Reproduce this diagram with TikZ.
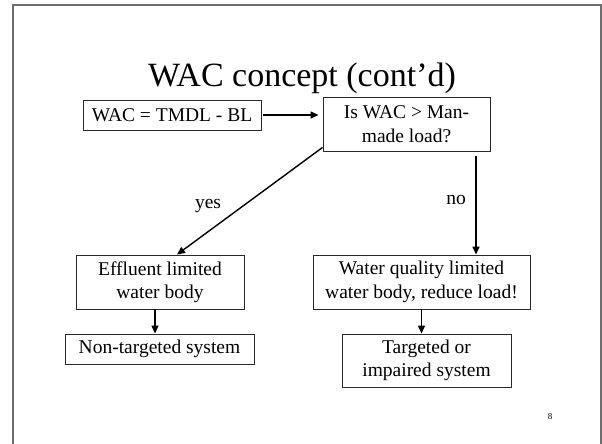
\documentclass[tikz,border=0pt]{standalone}
\usepackage{fontspec}
\setmainfont{Liberation Serif}
\usetikzlibrary{arrows.meta}
\definecolor{framegray}{RGB}{110,110,110}
\definecolor{boxline}{RGB}{40,40,40}

\begin{document}
\begin{tikzpicture}[x=1pt, y=-1pt,
    box/.style={rectangle, draw=boxline, line width=0.9pt, align=center, inner sep=0pt,
        font=\fontsize{19.5}{23.5}\selectfont},
    arrow/.style={-{Triangle[length=8pt, width=7pt]}, line width=1.4pt, black},
    lbl/.style={font=\fontsize{19.5}{23.5}\selectfont}
]
    \useasboundingbox (0,0) rectangle (602,444);

    % Slide frame
    \draw[framegray, line width=1.5pt] (13,444) -- (13,5) -- (601,5) -- (601,444);

    % Title
    \node[font=\fontsize{34}{38}\selectfont] (title) at (302,78) {WAC concept (cont'd)};

    % Top row
    \node[box, minimum width=178pt, minimum height=30pt] (wac) at (172,115) {WAC = TMDL - BL};
    \node[box, minimum width=167pt, minimum height=54pt] (test) at (406.5,124) {Is WAC > Man-\\made load?};

    % Middle row
    \node[box, minimum width=168pt, minimum height=54pt] (effluent) at (160,282) {Effluent limited\\water body};
    \node[box, minimum width=217pt, minimum height=54pt] (quality) at (421.5,282) {Water quality limited\\water body, reduce load!};

    % Bottom row
    \node[box, minimum width=189pt, minimum height=30pt] (nontarget) at (159.5,349) {Non-targeted system};
    \node[box, minimum width=169pt, minimum height=53pt] (target) at (426.5,360.5) {Targeted or\\impaired system};

    % Arrows
    \draw[arrow, shorten <=2pt, shorten >=4pt] (wac.east) -- (wac.east -| test.west);
    \draw[arrow] ([yshift=4pt]test.south west) -- ([xshift=17pt]effluent.north);
    \draw[arrow, shorten <=5pt] ([xshift=69.5pt]test.south) -- ([xshift=69.5pt]test.south |- quality.north);
    \draw[arrow] ([xshift=-5pt]effluent.south) -- ([xshift=-5pt]effluent.south |- nontarget.north);
    \draw[arrow] (quality.south) -- (quality.south |- target.north);

    % Labels
    \node[lbl] (yes) at (208,206) {yes};
    \node[lbl] (no) at (456,200) {no};

    % Page number
    \node[font=\fontsize{9}{10}\selectfont] (page) at (550,417) {8};
\end{tikzpicture}
\end{document}
